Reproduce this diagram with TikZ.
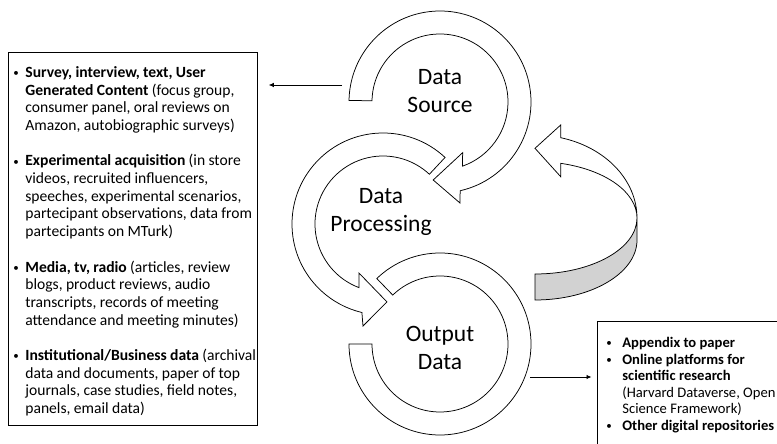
\documentclass[tikz,border=0pt]{standalone}
\usepackage{fontspec}
\setmainfont{Carlito}
\usetikzlibrary{calc,arrows.meta}
\definecolor{backgrey}{RGB}{210,210,210}
\newcommand\dotmark{\raisebox{0.6pt}{\fontsize{11}{11}\selectfont\textbullet}}
\begin{document}
\begin{tikzpicture}[x=1pt,y=1pt,
  ring/.style={draw=black, line width=0.75pt, fill=white, line join=miter},
  flow/.style={draw=black, line width=0.8pt, -{Latex[length=5pt,width=4.5pt]}},
  ringlabel/.style={font=\fontsize{23.5}{28}\selectfont, align=center, anchor=base, inner sep=0pt},
  listbox/.style={draw=black, line width=0.75pt, anchor=north west, align=left},
]
\clip (0,0) rectangle (777,444);
\fill[white] (0,0) rectangle (777,444);

% ring centres
\coordinate (S) at (440,342);
\coordinate (P) at (383,220);
\coordinate (O) at (440,100);

% Data Source: clockwise ring ending in an arrowhead
\path[ring] ($(S)+(179:91pt)$) -- ($(S)+(179:68pt)$)
  arc[start angle=179, end angle=-70.7, radius=68pt]
  -- ($(S)+(-65.9:55.5pt)$) -- ($(S)+(-95:78.3pt)$) -- ($(S)+(-78.8:103pt)$)
  -- ($(S)+(-77.2:91pt)$)
  arc[start angle=-77.2, end angle=179, radius=91pt] -- cycle;

% Data Processing: counter-clockwise ring ending in an arrowhead
\path[ring] ($(P)+(47:91pt)$)
  arc[start angle=47, end angle=256.6, radius=91pt]
  -- ($(P)+(258.9:104pt)$) -- ($(P)+(272.9:78pt)$) -- ($(P)+(243.9:54.6pt)$)
  -- ($(P)+(249.3:68pt)$)
  arc[start angle=249.3, end angle=47, radius=68pt] -- cycle;

% Output Data: open ring
\path[ring] ($(O)+(180:91pt)$)
  arc[start angle=180, end angle=494, radius=91pt]
  -- ($(O)+(494:68pt)$)
  arc[start angle=494, end angle=180, radius=68pt] -- cycle;

% return arrow: front face
\path[ring] (535,295.7) -- (560.7,319) -- (560.7,306.3)
  arc[start angle=75.4, end angle=0, x radius=102pt, y radius=83pt]
  arc[start angle=0, end angle=75.4, x radius=102pt, y radius=56.5pt]
  -- (560.7,267.3) -- cycle;
% return arrow: back face
\path[ring, fill=backgrey] (637,226) -- (637,204)
  arc[start angle=0, end angle=-90, x radius=102pt, y radius=60pt]
  -- (535,170)
  arc[start angle=-90, end angle=0, x radius=102pt, y radius=56pt] -- cycle;

% ring labels (anchored at the baseline of the last line)
\node[ringlabel] (src) at (440,331) {Data\\Source};
\node[ringlabel] (proc) at (381,212) {Data\\Processing};
\node[ringlabel] (out) at (440,74) {Output\\Data};

% list of data sources
\node[listbox, text width=239pt, inner xsep=5pt, inner ysep=0pt,
      text height=25pt, text depth=348pt] (srcbox) at (8,392) {%
  \fontsize{15.6}{17.7}\selectfont
  \begin{tabular}[t]{@{}p{12pt}@{}l@{}}
  \dotmark & \textbf{Survey, interview, text, User}\\
   & \textbf{Generated Content} (focus group,\\
   & consumer panel, oral reviews on\\
   & Amazon, autobiographic surveys)\\
   & \\
  \dotmark & \textbf{Experimental acquisition} (in store\\
   & videos, recruited influencers,\\
   & speeches, experimental scenarios,\\
   & partecipant observations, data from\\
   & partecipants on MTurk)\\
   & \\
  \dotmark & \textbf{Media, tv, radio} (articles, review\\
   & blogs, product reviews, audio\\
   & transcripts, records of meeting\\
   & attendance and meeting minutes)\\
   & \\
  \dotmark & \textbf{Institutional/Business data} (archival\\
   & data and documents, paper of top\\
   & journals, case studies, field notes,\\
   & panels, email data)
  \end{tabular}};

% list of output destinations
\node[listbox, text width=200pt, inner xsep=9pt, inner ysep=14.5pt] (outbox) at (597,123) {%
  \fontsize{14.6}{16.6}\selectfont
  \begin{tabular}{@{}p{16pt}@{}l@{}}
  \dotmark & \textbf{Appendix to paper}\\
  \dotmark & \textbf{Online platforms for}\\
   & \textbf{scientific research}\\
   & (Harvard Dataverse, Open\\
   & Science Framework)\\
  \dotmark & \textbf{Other digital repositories}\\
   & \\
  \end{tabular}};

% connectors
\coordinate (srcout) at (342,359);
\draw[flow, shorten >=11pt] (srcout) -- (srcout -| srcbox.east);
\coordinate (outout) at (530,67);
\draw[flow, shorten >=5.5pt] (outout) -- (outout -| outbox.west);
\end{tikzpicture}
\end{document}
